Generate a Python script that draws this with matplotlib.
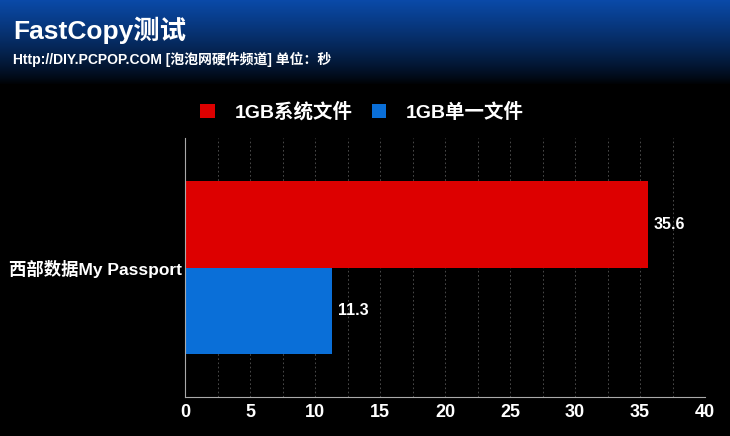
import matplotlib.pyplot as plt
import numpy as np

# 数据
geraet = ['西部数据My Passport']
serie_namen = ['1GB系统文件', '1GB单一文件']
werte_system = [35.6]
werte_einzel = [11.3]
farben = ['#dd0000', '#0a6fd8']
x_ticks = [0, 5, 10, 15, 20, 25, 30, 35, 40]

plt.rcParams['font.family'] = ['Liberation Sans', 'Noto Sans CJK SC', 'DejaVu Sans']

fig = plt.figure(figsize=(7.3, 4.36), dpi=100, facecolor='black')

# Kopfbereich mit Farbverlauf
kopf = fig.add_axes([0, 1 - 85 / 436, 1, 85 / 436])
verlauf = np.linspace(0, 1, 100).reshape(-1, 1)
oben = np.array([0.04, 0.29, 0.66])
farbe_verlauf = np.clip(1 - verlauf, 0, 1)[..., None] ** 0.8 * oben
kopf.imshow(farbe_verlauf, aspect='auto', extent=[0, 1, 0, 1])
kopf.set_axis_off()

fig.text(0.018, 1 - 30 / 436, 'FastCopy测试', color='white', fontsize=19,
         fontweight='bold', va='center', ha='left')
fig.text(0.018, 1 - 59 / 436, 'Http://DIY.PCPOP.COM [泡泡网硬件频道] 单位：秒', color='white',
         fontsize=10, fontweight='bold', va='center', ha='left')

ax = fig.add_axes([185 / 730, 1 - 397 / 436, 520 / 730, 259 / 436])
ax.set_facecolor('black')

balken_r = ax.barh([1], werte_system, height=1, color=farben[0], label=serie_namen[0])
balken_b = ax.barh([0], werte_einzel, height=1, color=farben[1], label=serie_namen[1])

for b, w in zip([balken_r[0], balken_b[0]], werte_system + werte_einzel):
    ax.text(w + 0.45, b.get_y() + b.get_height() / 2, f'{w}', color='white',
            fontsize=11.5, fontweight='bold', va='center', ha='left')

ax.set_xlim(0, 40)
ax.set_ylim(-1, 2)
ax.set_xticks(x_ticks)
ax.set_xticks(np.arange(0, 40.1, 2.5), minor=True)
ax.set_xticklabels([str(t) for t in x_ticks], color='white', fontsize=13, fontweight='bold')
ax.tick_params(axis='x', which='both', length=0, pad=5)
ax.grid(True, axis='x', which='both', color='#555555', linestyle=(0, (2, 3)), linewidth=0.6)
ax.set_axisbelow(True)

ax.set_yticks([0.5])
ax.set_yticklabels(geraet, color='white', fontsize=12.5, fontweight='bold')
ax.tick_params(axis='y', length=0, pad=2)

for s in ['top', 'right']:
    ax.spines[s].set_visible(False)
for s in ['left', 'bottom']:
    ax.spines[s].set_color('#aaaaaa')

leg = fig.legend(handles=[balken_r, balken_b], loc='center', bbox_to_anchor=(362 / 730, 1 - 112 / 436),
                 ncol=2, frameon=False, fontsize=14, handlelength=0.75, handleheight=0.75,
                 columnspacing=1.0, handletextpad=1.0)
for t in leg.get_texts():
    t.set_color('white')
    t.set_fontweight('bold')

plt.savefig('out.png', dpi=100, facecolor='black')
